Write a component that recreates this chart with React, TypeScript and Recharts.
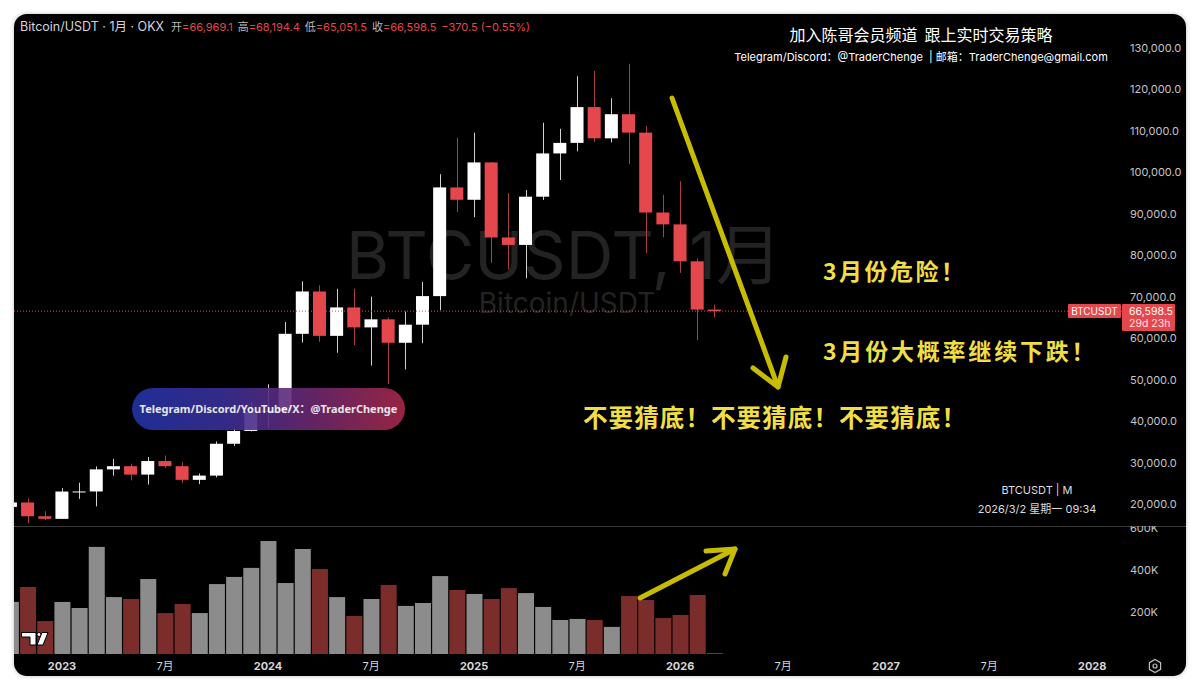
import React from 'react';
import { ComposedChart, Bar, XAxis, YAxis, ReferenceLine } from 'recharts';

// ---- data (monthly, Oct 2022 .. Mar 2026) ----
const months = [
  '2022-10', '2022-11', '2022-12',
  '2023-01', '2023-02', '2023-03', '2023-04', '2023-05', '2023-06', '2023-07', '2023-08', '2023-09', '2023-10', '2023-11', '2023-12',
  '2024-01', '2024-02', '2024-03', '2024-04', '2024-05', '2024-06', '2024-07', '2024-08', '2024-09', '2024-10', '2024-11', '2024-12',
  '2025-01', '2025-02', '2025-03', '2025-04', '2025-05', '2025-06', '2025-07', '2025-08', '2025-09', '2025-10', '2025-11', '2025-12',
  '2026-01', '2026-02', '2026-03',
];
const opens = [19423, 20490, 17163, 16542, 23125, 23141, 28465, 29233, 27210, 30472, 29232, 25941, 26962, 34639, 37723, 42284, 42582, 61130, 71333, 60636, 67491, 62678, 64619, 58974, 63329, 70215, 96405, 93429, 102429, 84350, 82550, 94172, 104591, 107135, 115758, 108236, 114048, 109608, 90360, 87500, 78600, 66969.1];
const highs = [20988, 21480, 18387, 23960, 25250, 29184, 31000, 29820, 31431, 31804, 30225, 27488, 35198, 38450, 44700, 48969, 64000, 73777, 72797, 71979, 71997, 70079, 65100, 66500, 73620, 99588, 108353, 109588, 102500, 95000, 95758, 111980, 110530, 123218, 124474, 117900, 126199, 111200, 94600, 97900, 79300, 68194.4];
const lows = [18190, 15476, 16256, 16499, 21351, 19549, 26942, 25811, 24800, 28861, 25166, 24901, 26538, 34097, 37617, 38555, 41884, 59005, 59191, 56552, 58402, 53485, 49000, 52550, 58864, 66835, 90500, 89256, 78258, 76606, 74508, 93377, 98200, 105100, 107350, 107255, 102000, 80600, 84400, 75800, 59600, 65051.5];
const closes = [20490, 17163, 16542, 23125, 23141, 28465, 29233, 27210, 30472, 29232, 25941, 26962, 34639, 37723, 42284, 42582, 61130, 71333, 60636, 67491, 62678, 64619, 58974, 63329, 70215, 96405, 93429, 102429, 84350, 82550, 94172, 104591, 107135, 115758, 108236, 114048, 109608, 90360, 87500, 78600, 66969.1, 66598.5];
const volumes = [248000, 319000, 157000, 248000, 219000, 510000, 271000, 262000, 357000, 195000, 238000, 195000, 333000, 367000, 410000, 538000, 338000, 500000, 405000, 271000, 181000, 262000, 329000, 229000, 243000, 371000, 305000, 286000, 262000, 314000, 290000, 224000, 162000, 167000, 162000, 129000, 276000, 257000, 171000, 186000, 281000, 5000];

const xTicks = [3, 9, 15, 21, 27, 33, 39, 45, 51, 57, 63];
const xTickLabels = ['2023', '7月', '2024', '7月', '2025', '7月', '2026', '7月', '2027', '7月', '2028'];
const priceTicks = [20000, 30000, 40000, 50000, 60000, 70000, 80000, 90000, 100000, 110000, 120000, 130000];
const volumeTicks = [200000, 400000, 600000];
const lastPrice = 66598.5;
const countdown = '29d 23h';

const X_DOMAIN: [number, number] = [0.2045, 64.735];
const P_DOMAIN: [number, number] = [14819, 138193];
const V_DOMAIN: [number, number] = [0, 609524];

const RED = '#e4474c';
const UP = '#ffffff';
const WICK_UP = '#d0d0d0';
const WICK_DN = '#a8403f';
const VOL_UP = '#8c8c8c';
const VOL_DN = '#7b2d2b';
const AXIS_TXT = '#c4c4c4';
const FONT = 'Inter, "Noto Sans", "Noto Sans CJK SC", sans-serif';
const CJK = '"Noto Sans CJK SC", "Noto Sans", sans-serif';

const data = months.map((m, i) => ({
  i,
  month: m,
  open: opens[i],
  high: highs[i],
  low: lows[i],
  close: closes[i],
  range: [lows[i], highs[i]],
  vol: volumes[i],
  up: closes[i] >= opens[i],
}));

const fmtPrice = (v: number) =>
  v.toLocaleString('en-US', { minimumFractionDigits: 1, maximumFractionDigits: 1 });

const Candle = (props: any) => {
  const { x, y, width, height, payload } = props;
  if (x == null || !payload) return null;
  const top = Math.min(y, y + height);
  const h = Math.abs(height);
  const { open, close, high, low } = payload;
  const span = high - low || 1;
  const py = (v: number) => top + ((high - v) / span) * h;
  const bTop = py(Math.max(open, close));
  const bBot = py(Math.min(open, close));
  const cx = Math.round(x + width / 2) + 0.5;
  const up = close >= open;
  return (
    <g>
      <line x1={cx} x2={cx} y1={top} y2={top + h} stroke={up ? WICK_UP : WICK_DN} strokeWidth={1} />
      <rect x={x} y={bTop} width={width} height={Math.max(1, bBot - bTop)} fill={up ? UP : RED} />
    </g>
  );
};

const VolBar = (props: any) => {
  const { x, y, width, height, payload } = props;
  if (x == null || !payload) return null;
  return (
    <rect x={x} y={Math.min(y, y + height)} width={width} height={Math.abs(height)} fill={payload.up ? VOL_UP : VOL_DN} />
  );
};

const PriceLabel = (props: any) => {
  const vb = props.viewBox || {};
  const y = vb.y;
  const right = vb.x + vb.width;
  if (y == null || isNaN(right)) return null;
  return (
    <g fontFamily={FONT}>
      <rect x={right - 54} y={y - 7} width={53} height={14} fill={RED} rx={1} />
      <text x={right - 27.5} y={y + 4} fill="#fff" fontSize={10} textAnchor="middle">BTCUSDT</text>
      <rect x={right} y={y - 7} width={53} height={27} fill={RED} rx={1} />
      <text x={right + 7} y={y + 4} fill="#fff" fontSize={10.5}>{fmtPrice(lastPrice)}</text>
      <text x={right + 7} y={y + 16} fill="#ffe2e2" fontSize={10.5}>{countdown}</text>
    </g>
  );
};

const XTick = (props: any) => {
  const { x, y, payload } = props;
  const idx = xTicks.indexOf(payload.value);
  const label = idx >= 0 ? xTickLabels[idx] : '';
  const isYear = /^\d{4}$/.test(label);
  return (
    <text x={x} y={y + 8} fill="#d6d6d6" fontSize={11} fontWeight={isYear ? 700 : 400} textAnchor="middle" fontFamily={FONT}>
      {label}
    </text>
  );
};

const abs = (l: number, t: number): React.CSSProperties => ({ position: 'absolute', left: l, top: t, whiteSpace: 'nowrap' });

export default function App() {
  const yellowText: React.CSSProperties = {
    color: '#f0de45',
    fontFamily: CJK,
    fontWeight: 700,
  };
  return (
    <div style={{ position: 'absolute', left: 0, top: 0, width: 1200, height: 691, background: '#ffffff', overflow: 'hidden' }}>
      <div
        style={{
          position: 'absolute',
          left: 14,
          top: 14,
          width: 1172,
          height: 662,
          background: '#000',
          borderRadius: 13,
          overflow: 'hidden',
          boxShadow: '0 0 4px rgba(0,0,0,0.25)',
        }}
      >
        {/* watermark */}
        <div style={{ ...abs(0, 206), width: 1100, textAlign: 'center', color: '#232323', fontSize: 66, fontFamily: FONT, lineHeight: '70px' }}>
          BTCUSDT, 1月
        </div>
        <div style={{ ...abs(0, 272), width: 1106, textAlign: 'center', color: '#232323', fontSize: 28, fontFamily: FONT, lineHeight: '34px' }}>
          Bitcoin/USDT
        </div>

        {/* price pane */}
        <div style={{ position: 'absolute', left: 0, top: 0 }}>
          <ComposedChart width={1172} height={512} data={data} margin={{ top: 0, right: 0, bottom: 0, left: 0 }}>
            <XAxis dataKey="i" type="number" domain={X_DOMAIN} allowDataOverflow hide />
            <YAxis
              orientation="right"
              width={64}
              domain={P_DOMAIN}
              allowDataOverflow
              ticks={priceTicks}
              interval={0}
              tickFormatter={fmtPrice}
              axisLine={false}
              tickLine={false}
              tickSize={0}
              tickMargin={8}
              tick={{ fill: AXIS_TXT, fontSize: 11, fontFamily: FONT }}
            />
            <Bar dataKey="range" barSize={13} shape={Candle} isAnimationActive={false} />
            <ReferenceLine y={lastPrice} stroke={RED} strokeDasharray="1 2" strokeWidth={1} label={PriceLabel} />
          </ComposedChart>
        </div>

        {/* separator */}
        <div style={{ position: 'absolute', left: 0, top: 512, width: 1172, height: 1, background: '#3a3a3a' }} />

        {/* volume pane */}
        <div style={{ position: 'absolute', left: 0, top: 512 }}>
          <ComposedChart width={1172} height={150} data={data} margin={{ top: 0, right: 0, bottom: 0, left: 0 }}>
            <XAxis
              dataKey="i"
              type="number"
              domain={X_DOMAIN}
              allowDataOverflow
              ticks={xTicks}
              interval={0}
              height={22}
              axisLine={false}
              tickLine={false}
              tick={<XTick />}
            />
            <YAxis
              orientation="right"
              width={64}
              domain={V_DOMAIN}
              allowDataOverflow
              ticks={volumeTicks}
              interval={0}
              tickFormatter={(v: number) => `${v / 1000}K`}
              axisLine={false}
              tickLine={false}
              tickSize={0}
              tickMargin={8}
              tick={{ fill: AXIS_TXT, fontSize: 11, fontFamily: FONT }}
            />
            <Bar dataKey="vol" barSize={16} shape={VolBar} isAnimationActive={false} />
          </ComposedChart>
        </div>

        {/* header */}
        <div style={{ ...abs(6, 3), fontFamily: FONT, lineHeight: '16px' }}>
          <span style={{ color: '#d1d4dc', fontSize: 12.5 }}>Bitcoin/USDT · 1月 · OKX</span>
          <span style={{ fontSize: 11, marginLeft: 7 }}>
            <span style={{ color: '#b8b8b8' }}>开</span><span style={{ color: RED }}>=66,969.1</span>
            <span style={{ color: '#b8b8b8', marginLeft: 5 }}>高</span><span style={{ color: RED }}>=68,194.4</span>
            <span style={{ color: '#b8b8b8', marginLeft: 5 }}>低</span><span style={{ color: RED }}>=65,051.5</span>
            <span style={{ color: '#b8b8b8', marginLeft: 5 }}>收</span><span style={{ color: RED }}>=66,598.5</span>
            <span style={{ color: RED, marginLeft: 5 }}>−370.5 (−0.55%)</span>
          </span>
        </div>

        {/* top-right promo */}
        <div style={{ ...abs(707, 9), width: 400, textAlign: 'center', color: '#fff', fontSize: 16, fontFamily: CJK, lineHeight: '22px' }}>
          加入陈哥会员频道&nbsp;&nbsp;跟上实时交易策略
        </div>
        <div style={{ ...abs(707, 35), width: 400, textAlign: 'center', color: '#fff', fontSize: 11, fontFamily: FONT, lineHeight: '16px' }}>
          Telegram/Discord：@TraderChenge &nbsp;| 邮箱：TraderChenge@gmail.com
        </div>

        {/* gradient pill */}
        <div
          style={{
            ...abs(118, 374),
            width: 273,
            height: 42,
            borderRadius: 21,
            background: 'linear-gradient(90deg, #2233a6 0%, #3b2f95 35%, #70286e 68%, #a8284a 100%)',
            opacity: 0.9,
            color: '#fff',
            fontSize: 11,
            fontWeight: 700,
            fontFamily: '"Noto Sans", "Noto Sans CJK SC", sans-serif',
            lineHeight: '42px',
            textAlign: 'center',
          }}
        >
          Telegram/Discord/YouTube/X：@TraderChenge
        </div>

        {/* yellow texts */}
        <div style={{ ...abs(809, 242), ...yellowText, fontSize: 23, letterSpacing: 2.5, lineHeight: '28px' }}>3月份危险！</div>
        <div style={{ ...abs(809, 322), ...yellowText, fontSize: 23, letterSpacing: 2.8, lineHeight: '28px' }}>3月份大概率继续下跌！</div>
        <div style={{ ...abs(569, 388), ...yellowText, fontSize: 24.5, letterSpacing: 1.1, lineHeight: '30px' }}>不要猜底！不要猜底！不要猜底！</div>

        {/* symbol / time */}
        <div style={{ ...abs(923, 468), width: 200, textAlign: 'center', color: '#dcdcdc', fontSize: 11, fontFamily: FONT, lineHeight: '16px' }}>
          BTCUSDT | M
        </div>
        <div style={{ ...abs(923, 487), width: 200, textAlign: 'center', color: '#dcdcdc', fontSize: 11, fontFamily: FONT, lineHeight: '16px' }}>
          2026/3/2 星期一 09:34
        </div>

        {/* overlays: arrows, logo, gear */}
        <svg width={1172} height={662} style={{ position: 'absolute', left: 0, top: 0, pointerEvents: 'none' }}>
          <g stroke="#c8bc00" strokeWidth={5} strokeLinecap="round" strokeLinejoin="round" fill="none">
            <line x1={658} y1={84} x2={764} y2={373} />
            <polyline points="739,354 764,373 772,343" />
            <line x1={626} y1={584} x2={721} y2={535} />
            <polyline points="692,537 721,535 711,560" />
          </g>
          <g stroke="#000" strokeWidth={1} fill="#fff">
            <path d="M7.5,618.5 H22 V631 H16 V623 H7.5 Z" />
            <circle cx={25} cy={620.5} r={2} />
            <path d="M28,618.5 H34 L29,631 H23 Z" />
          </g>
          <g stroke="#bdbdbd" strokeWidth={1.2} fill="none">
            <polygon points="1141,645.5 1146.6,648.7 1146.6,655.3 1141,658.5 1135.4,655.3 1135.4,648.7" />
            <circle cx={1141} cy={652} r={2} />
          </g>
        </svg>
      </div>
    </div>
  );
}
